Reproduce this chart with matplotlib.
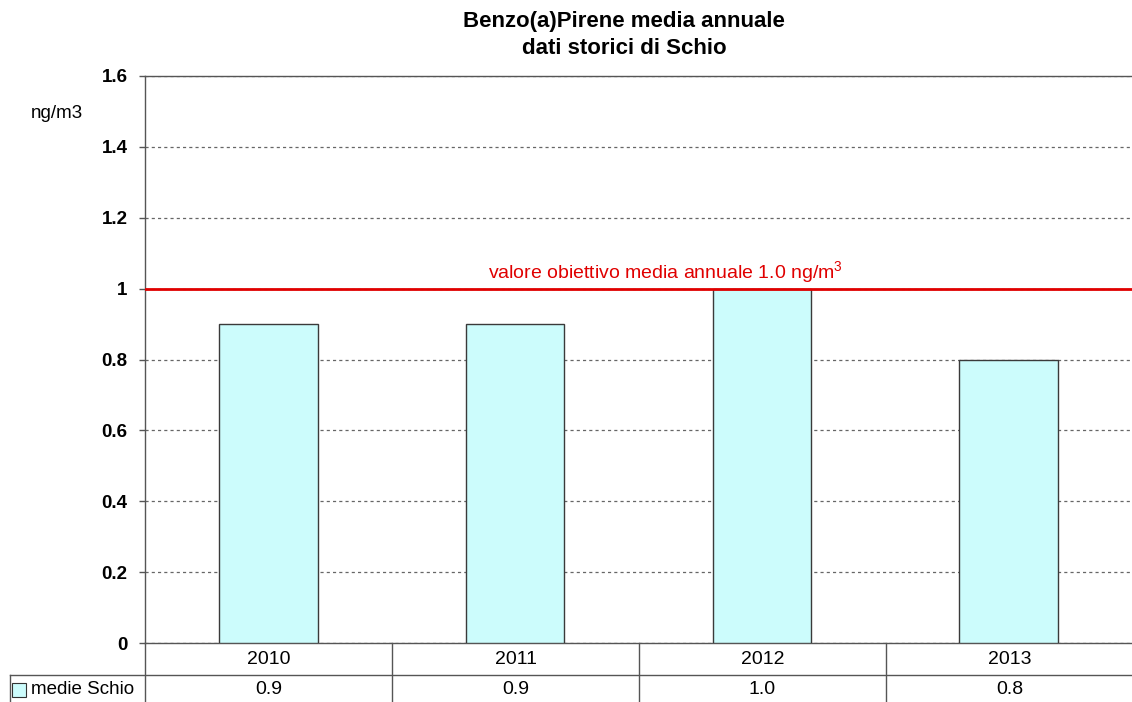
import matplotlib
matplotlib.use('Agg')
import matplotlib.pyplot as plt
from matplotlib.lines import Line2D
from matplotlib.patches import Rectangle

plt.rcParams['font.family'] = ['Liberation Sans', 'DejaVu Sans']
plt.rcParams['mathtext.default'] = 'regular'

# annual mean values for Schio
years = ['2010', '2011', '2012', '2013']
medie_schio = [0.9, 0.9, 1.0, 0.8]
value_labels = ['0.9', '0.9', '1.0', '0.8']
y_ticks = [0, 0.2, 0.4, 0.6, 0.8, 1.0, 1.2, 1.4, 1.6]
y_tick_labels = ['0', '0.2', '0.4', '0.6', '0.8', '1', '1.2', '1.4', '1.6']
target_value = 1.0
series_name = 'medie Schio'

W, H = 1132, 702
fig = plt.figure(figsize=(W / 100, H / 100), dpi=100)
fig.patch.set_facecolor('white')

ax_left, ax_top, ax_bottom = 145, 76, 643
ax = fig.add_axes([ax_left / W, (H - ax_bottom) / H, 1 - ax_left / W, (ax_bottom - ax_top) / H])

bar_color = '#ccfcfc'
x = list(range(len(years)))
ax.bar(x, medie_schio, width=0.4, color=bar_color, edgecolor='#3a3a3a', linewidth=1.0, zorder=3)

ax.set_xlim(-0.5, len(years) - 0.5)
ax.set_ylim(0, 1.6)
ax.set_yticks(y_ticks)
ax.set_yticklabels(y_tick_labels, fontsize=13.5, fontweight='bold')
ax.set_xticks([])
ax.tick_params(axis='y', length=4.5, width=1, color='#555555', pad=8)
ax.yaxis.grid(True, linestyle=(0, (2.5, 2.5)), color='#666666', linewidth=0.9, zorder=1)

for s in ['left', 'top', 'bottom']:
    ax.spines[s].set_color('#555555')
    ax.spines[s].set_linewidth(1.0)
ax.spines['right'].set_visible(False)

# target line with its label
ax.axhline(target_value, color='#e00000', linewidth=2.0, zorder=4)
ax.text(1.61, target_value + 0.03, 'valore obiettivo media annuale 1.0 ng/m$^{3}$',
        color='#e00000', fontsize=14, ha='center', va='baseline', zorder=5)

fig.text(31 / W, 1 - 113 / H, 'ng/m3', fontsize=13.5, va='center', ha='left')

fig.text(624 / W, 1 - 27.5 / H, 'Benzo(a)Pirene media annuale', fontsize=16,
         fontweight='bold', ha='center', va='baseline')
fig.text(624 / W, 1 - 54.5 / H, 'dati storici di Schio', fontsize=16,
         fontweight='bold', ha='center', va='baseline')

# data table below the chart, in pixel coordinates
def fx(px):
    return px / W

def fy(py):
    return 1 - py / H

line_kw = dict(color='#555555', linewidth=1.0, transform=fig.transFigure)
row1, row2 = 675, 702
col_edges = [ax_left + 247 * i for i in range(len(years) + 1)]
fig.add_artist(Line2D([fx(10), 1], [fy(row1), fy(row1)], **line_kw))
fig.add_artist(Line2D([fx(10), fx(10)], [fy(row1), fy(row2)], **line_kw))
for ce in col_edges[:-1]:
    fig.add_artist(Line2D([fx(ce), fx(ce)], [fy(ax_bottom), fy(row2)], **line_kw))

for i, (yr, lab) in enumerate(zip(years, value_labels)):
    cx = (col_edges[i] + col_edges[i + 1]) / 2
    fig.text(fx(cx), fy(659), yr, fontsize=14, ha='center', va='center')
    fig.text(fx(cx), fy(690), lab, fontsize=14, ha='center', va='center')

fig.add_artist(Rectangle((fx(12), fy(697)), 14 / W, 14 / H, facecolor=bar_color,
                         edgecolor='#333333', linewidth=0.8, transform=fig.transFigure))
fig.text(fx(31), fy(690), series_name, fontsize=13.5, ha='left', va='center')

fig.savefig('out.png', dpi=100)
